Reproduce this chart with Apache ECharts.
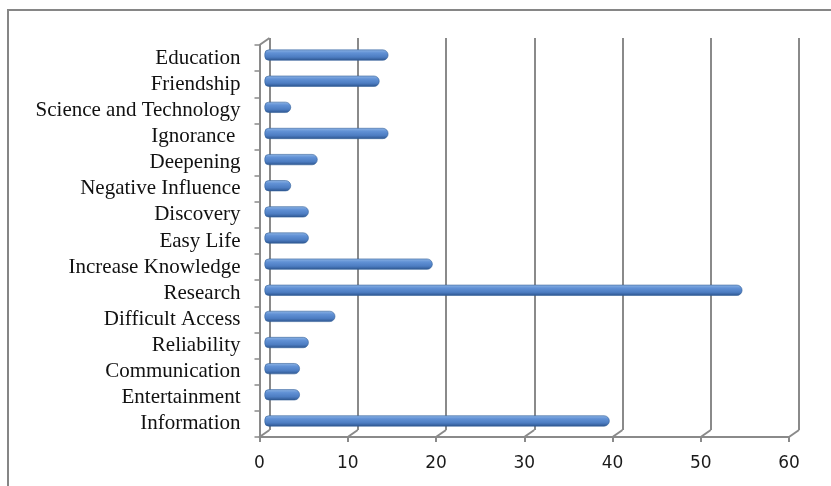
<!DOCTYPE html>
<html>
<head>
<meta charset="utf-8">
<style>
  html, body { margin: 0; padding: 0; background: #ffffff; }
  #chart { width: 831px; height: 486px; }
</style>
<script src="https://cdn.jsdelivr.net/npm/echarts@6/dist/echarts.min.js"></script>
</head>
<body>
<div id="chart"></div>
<script>
// Categories, top to bottom
const categories = [
  'Education', 'Friendship', 'Science and Technology', 'Ignorance ',
  'Deepening', 'Negative Influence', 'Discovery', 'Easy Life',
  'Increase Knowledge', 'Research', 'Difficult Access', 'Reliability',
  'Communication', 'Entertainment', 'Information'
];
// Value for each category
const values = [14, 13, 3, 14, 6, 3, 5, 5, 19, 54, 8, 5, 4, 4, 39];
// Value axis ticks
const xTicks = [0, 10, 20, 30, 40, 50, 60];

const AXIS_GRAY = '#8a8a8a';
const DEPTH = [10, -7]; // offset of the back wall relative to the front plane

const chart = echarts.init(document.getElementById('chart'));

const frontGrid = { left: 259.5, top: 45, width: 529.5, height: 392 };
const backGrid = { left: frontGrid.left + DEPTH[0], top: frontGrid.top + DEPTH[1], width: 529.5, height: 392 };
const midGrid = { left: frontGrid.left + DEPTH[0] / 2, top: frontGrid.top + DEPTH[1] / 2 + 0.5, width: 531, height: 392 };

const valueAxisBase = { type: 'value', min: 0, max: 60, interval: 10 };

chart.setOption({
  animation: false,
  backgroundColor: '#ffffff',
  graphic: [{
    type: 'rect',
    shape: { x: 8, y: 10, width: 1000, height: 1000 },
    style: { fill: 'none', stroke: '#868686', lineWidth: 2 },
    silent: true
  }],
  grid: [
    Object.assign({ containLabel: false }, frontGrid),
    Object.assign({ containLabel: false }, backGrid),
    Object.assign({ containLabel: false }, midGrid)
  ],
  xAxis: [
    Object.assign({}, valueAxisBase, {
      gridIndex: 0,
      axisLine: { show: true, lineStyle: { color: AXIS_GRAY, width: 2 } },
      axisTick: { show: true, length: 5, lineStyle: { color: AXIS_GRAY, width: 2 } },
      splitLine: { show: false },
      axisLabel: {
        margin: 18,
        fontFamily: 'DejaVu Sans',
        fontSize: 17,
        color: '#1a1a1a'
      }
    }),
    Object.assign({}, valueAxisBase, {
      gridIndex: 1,
      axisLine: { show: false },
      axisTick: { show: false },
      axisLabel: { show: false },
      splitLine: { show: true, lineStyle: { color: AXIS_GRAY, width: 2 } }
    }),
    Object.assign({}, valueAxisBase, {
      gridIndex: 2,
      show: false
    })
  ],
  yAxis: [
    {
      type: 'category',
      gridIndex: 0,
      data: categories,
      inverse: true,
      axisLine: { show: true, lineStyle: { color: AXIS_GRAY, width: 2 } },
      axisTick: { show: true, length: 5, inside: false, lineStyle: { color: AXIS_GRAY, width: 1.5 } },
      axisLabel: {
        interval: 0,
        margin: 19,
        fontFamily: 'Liberation Serif',
        fontSize: 21,
        color: '#111111'
      },
      splitLine: { show: false }
    },
    {
      type: 'category',
      gridIndex: 1,
      data: categories,
      inverse: true,
      show: false
    },
    {
      type: 'category',
      gridIndex: 2,
      data: categories,
      inverse: true,
      show: false
    }
  ],
  series: [
    {
      // Floor edges joining the front axis to the back wall
      type: 'custom',
      xAxisIndex: 0,
      yAxisIndex: 0,
      clip: false,
      silent: true,
      data: xTicks.map(v => [v, 0]),
      renderItem: function (params, api) {
        const p = api.coord([api.value(0), 0]);
        const cs = params.coordSys;
        const yb = cs.y + cs.height;
        const style = { stroke: AXIS_GRAY, lineWidth: 2, fill: 'none' };
        const children = [{
          type: 'line',
          shape: { x1: p[0], y1: yb, x2: p[0] + DEPTH[0], y2: yb + DEPTH[1] },
          style: style
        }];
        if (params.dataIndex === 0) {
          children.push({
            type: 'line',
            shape: { x1: cs.x, y1: cs.y, x2: cs.x + DEPTH[0], y2: cs.y + DEPTH[1] },
            style: style
          });
        }
        return { type: 'group', children: children };
      },
      z: 1
    },
    {
      type: 'bar',
      xAxisIndex: 2,
      yAxisIndex: 2,
      data: values,
      barWidth: 11,
      itemStyle: {
        borderRadius: [4, 5.5, 5.5, 4],
        borderColor: '#335f98',
        borderWidth: 0.6,
        color: new echarts.graphic.LinearGradient(0, 0, 0, 1, [
          { offset: 0, color: '#8fb5e5' },
          { offset: 0.3, color: '#6191d5' },
          { offset: 0.68, color: '#4d7dc2' },
          { offset: 1, color: '#2c548d' }
        ])
      },
      z: 3
    }
  ]
});
</script>
</body>
</html>
